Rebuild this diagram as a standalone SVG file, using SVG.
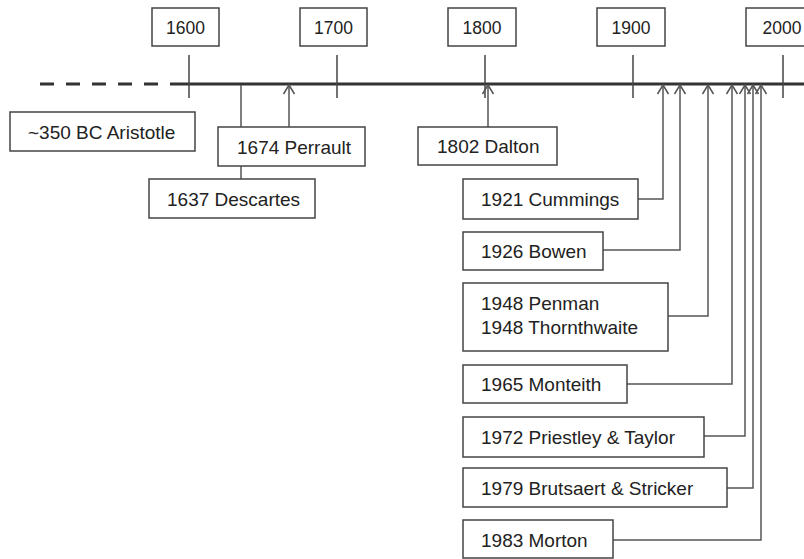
<svg xmlns="http://www.w3.org/2000/svg" width="804" height="559" viewBox="0 0 804 559">
<style>
.box{fill:#fff;stroke:#444;stroke-width:1.5}
.yr{font-family:"Liberation Sans",Arial,sans-serif;font-size:17.5px;fill:#222;text-anchor:middle}
.ev{font-family:"Liberation Sans",Arial,sans-serif;font-size:19px;fill:#222}
.tick{stroke:#444;stroke-width:1.5}
.con{fill:none;stroke:#555;stroke-width:1.5}
.arr{fill:none;stroke:#555;stroke-width:1.5;marker-end:url(#ah)}
</style>
<defs>
<marker id="ah" markerUnits="userSpaceOnUse" markerWidth="20" markerHeight="20" refX="0" refY="0" orient="auto" overflow="visible">
<path d="M-9,-5.5 L0,0 L-9,5.5" fill="none" stroke="#555" stroke-width="1.5"/>
</marker>
</defs>
<rect width="804" height="559" fill="#fff"/>
<g id="timeline">
<line x1="40" y1="84" x2="172" y2="84" stroke="#333" stroke-width="3" stroke-dasharray="14,12"/>
<line x1="172" y1="84" x2="804" y2="84" stroke="#333" stroke-width="3"/>
<line class="tick" x1="189" y1="55" x2="189" y2="98"/>
<line class="tick" x1="337" y1="55" x2="337" y2="98"/>
<line class="tick" x1="485" y1="55" x2="485" y2="98"/>
<line class="tick" x1="633" y1="55" x2="633" y2="98"/>
<line class="tick" x1="783" y1="55" x2="783" y2="98"/>
</g>
<g id="connectors">
<line class="con" x1="241" y1="179" x2="241" y2="85"/>
<line class="arr" x1="289" y1="127" x2="289" y2="85"/>
<line class="arr" x1="488" y1="127" x2="488" y2="85"/>
<polyline class="arr" points="638,199 663,199 663,85"/>
<polyline class="arr" points="603,250 680,250 680,85"/>
<polyline class="arr" points="668,316 708,316 708,85"/>
<polyline class="arr" points="627,384 732,384 732,85"/>
<polyline class="arr" points="704,436 745,436 745,85"/>
<polyline class="arr" points="727,488 753,488 753,85"/>
<polyline class="arr" points="613,540 761,540 761,85"/>
</g>
<g id="y1600"><rect class="box" x="152" y="8" width="67" height="38"/><text class="yr" x="185.5" y="34">1600</text></g>
<g id="y1700"><rect class="box" x="300" y="8" width="67" height="38"/><text class="yr" x="333.5" y="34">1700</text></g>
<g id="y1800"><rect class="box" x="448" y="8" width="68" height="38"/><text class="yr" x="482" y="34">1800</text></g>
<g id="y1900"><rect class="box" x="597" y="8" width="68" height="38"/><text class="yr" x="631" y="34">1900</text></g>
<g id="y2000"><rect class="box" x="746" y="8" width="72" height="38"/><text class="yr" x="782" y="34">2000</text></g>
<g id="aristotle"><rect class="box" x="10" y="112" width="185" height="39"/><text class="ev" x="28" y="138.5">~350 BC Aristotle</text></g>
<g id="perrault"><rect class="box" x="218" y="127" width="147" height="39"/><text class="ev" x="237" y="153.5">1674 Perrault</text></g>
<g id="descartes"><rect class="box" x="149" y="179" width="166" height="39"/><text class="ev" x="167" y="205.5">1637 Descartes</text></g>
<g id="dalton"><rect class="box" x="418" y="127" width="139" height="38"/><text class="ev" x="437" y="153">1802 Dalton</text></g>
<g id="cummings"><rect class="box" x="463" y="179" width="175" height="40"/><text class="ev" x="481" y="206">1921 Cummings</text></g>
<g id="bowen"><rect class="box" x="463" y="232" width="140" height="38"/><text class="ev" x="481" y="257.5">1926 Bowen</text></g>
<g id="penman"><rect class="box" x="463" y="283" width="205" height="68"/><text class="ev" x="481" y="310">1948 Penman</text><text class="ev" x="481" y="334">1948 Thornthwaite</text></g>
<g id="monteith"><rect class="box" x="463" y="365" width="164" height="38"/><text class="ev" x="481" y="391">1965 Monteith</text></g>
<g id="priestley"><rect class="box" x="463" y="417" width="241" height="40"/><text class="ev" x="481" y="443.5">1972 Priestley &amp; Taylor</text></g>
<g id="brutsaert"><rect class="box" x="463" y="468" width="264" height="39"/><text class="ev" x="481" y="494.5">1979 Brutsaert &amp; Stricker</text></g>
<g id="morton"><rect class="box" x="463" y="520" width="150" height="38"/><text class="ev" x="481" y="546.5">1983 Morton</text></g>
</svg>
